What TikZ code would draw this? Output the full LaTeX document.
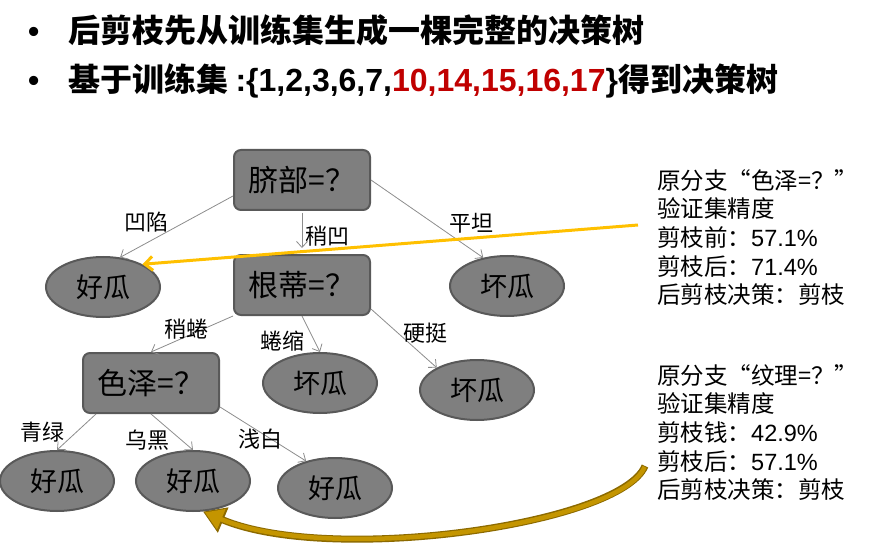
\documentclass[tikz,border=0pt]{standalone}
\usepackage{fontspec}
\setmainfont{Noto Sans CJK SC}
\newfontfamily\lat{Liberation Sans}
\usetikzlibrary{shapes.geometric,arrows.meta}
\definecolor{nodefill}{HTML}{7F7F7F}
\definecolor{nodeline}{HTML}{595959}
\definecolor{edgegray}{HTML}{8C8C8C}
\definecolor{amber}{HTML}{FFC000}
\definecolor{gold}{HTML}{C49500}
\definecolor{golddark}{HTML}{8C6A00}
\definecolor{numred}{HTML}{C00000}
\begin{document}
\begin{tikzpicture}[x=1pt,y=-1pt,
 qbox/.style={draw=nodeline, line width=2pt, fill=nodefill, rounded corners=7pt,
   minimum width=136pt, minimum height=60pt, inner sep=0pt, font=\fontsize{30}{32}\selectfont},
 leaf/.style={ellipse, draw=nodeline, line width=2pt, fill=nodefill,
   minimum width=114pt, minimum height=60pt, inner sep=0pt, font=\fontsize{27}{29}\selectfont},
 edge/.style={draw=edgegray, line width=0.8pt, -{Straight Barb[length=6pt,width=11pt]}},
 elabel/.style={inner sep=0pt, font=\fontsize{22}{24}\selectfont},
 note/.style={anchor=north west, inner sep=0pt, align=left, font=\fontsize{23.5}{28.7}\selectfont},
 titletext/.style={anchor=base west, inner sep=0pt, font=\bfseries\fontsize{32}{36}\selectfont}]
\useasboundingbox (0,0) rectangle (877,545);

% title
\node[titletext] (b1) at (28,43) {\lat •};
\node[titletext] (t1) at (68,43) {后剪枝先从训练集生成一棵完整的决策树};
\node[titletext] (b2) at (28,92) {\lat •};
\node[titletext] (t2) at (68,92) {基于训练集 {\lat :\{1,2,3,6,7,\textcolor{numred}{10,14,15,16,17}\}}得到决策树};

% tree nodes
\node[qbox] (qibu) at (302,180) {脐部=？};
\node[qbox] (gendi) at (302,285) {根蒂=？};
\node[qbox] (sezhe) at (151,383) {色泽=？};
\node[leaf] (hg1) at (103,287) {好瓜};
\node[leaf] (huai1) at (507,286) {坏瓜};
\node[leaf] (huai2) at (320,383) {坏瓜};
\node[leaf] (huai3) at (477,390) {坏瓜};
\node[leaf] (hgA) at (57,481) {好瓜};
\node[leaf] (hgB) at (193,481) {好瓜};
\node[leaf] (hgC) at (335,488) {好瓜};

% edges
\draw[edge] ([yshift=-16pt]qibu.west) -- (hg1.60);
\draw[edge, shorten <=2pt, shorten >=6pt] (qibu.south) -- (gendi.north);
\draw[edge] (qibu.east) -- (huai1.130);
\draw[edge] (gendi.south west) -- (sezhe.north);
\draw[edge] (gendi.south) -- (huai2.north);
\draw[edge] ([yshift=-24pt]gendi.east) -- (huai3.151);
\draw[edge] ([xshift=14pt]sezhe.south west) -- (hgA.north);
\draw[edge] (sezhe.south) -- (hgB.north);
\draw[edge] ([yshift=-24pt]sezhe.east) -- (hgC.137);

% edge labels
\node[elabel] (l1) at (146,222) {凹陷};
\node[elabel] (l2) at (327,236) {稍凹};
\node[elabel] (l3) at (471,223) {平坦};
\node[elabel] (l4) at (186,329) {稍蜷};
\node[elabel] (l5) at (282,341) {蜷缩};
\node[elabel] (l6) at (425,333) {硬挺};
\node[elabel] (l7) at (42,432) {青绿};
\node[elabel] (l8) at (147,440) {乌黑};
\node[elabel] (l9) at (260,439) {浅白};

% notes
\node[note] (n1) at (657,169) {原分支“色泽=？”\\验证集精度\\剪枝前：{\lat 57.1\%}\\剪枝后：{\lat 71.4\%}\\后剪枝决策：剪枝};
\node[note] (n2) at (657,364) {原分支“纹理=？”\\验证集精度\\剪枝钱：{\lat 42.9\%}\\剪枝后：{\lat 57.1\%}\\后剪枝决策：剪枝};

% yellow arrows
\coordinate (c1) at (638,225);
\coordinate (c2) at (645,466);
\draw[amber, line width=3pt, -{Straight Barb[length=8pt,width=14pt]}] (c1) -- (hg1.30);
\draw[golddark, line width=7pt, -{Triangle[length=22pt,width=26pt]}]
  (c2) .. controls (620,525) and (330,565) .. (hgB.-72);
\draw[gold, line width=4.5pt, shorten >=2pt, shorten <=1pt, -{Triangle[length=18pt,width=21pt]}]
  (c2) .. controls (620,525) and (330,565) .. (hgB.-72);
\end{tikzpicture}
\end{document}
